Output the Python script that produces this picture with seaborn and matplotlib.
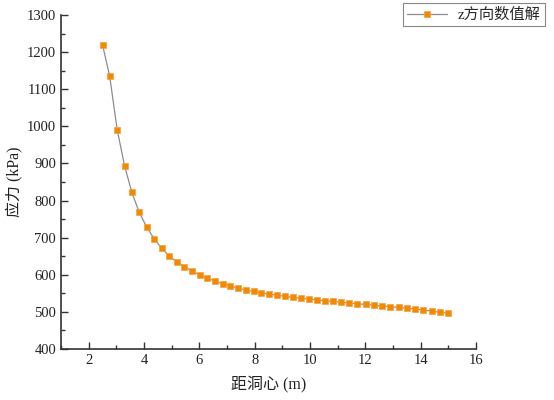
import matplotlib
matplotlib.use("Agg")
import matplotlib.pyplot as plt
import seaborn as sns
import pandas as pd
from matplotlib.ticker import MultipleLocator
from matplotlib.lines import Line2D

distance_m = [2.50, 2.76, 3.03, 3.30, 3.56, 3.83, 4.10, 4.37, 4.64, 4.91,
              5.18, 5.46, 5.73, 6.01, 6.28, 6.56, 6.84, 7.12, 7.40, 7.68,
              7.96, 8.24, 8.52, 8.81, 9.09, 9.38, 9.67, 9.96, 10.25, 10.54,
              10.83, 11.12, 11.42, 11.71, 12.01, 12.30, 12.60, 12.90, 13.20, 13.50,
              13.80, 14.10, 14.40, 14.70, 15.00]
stress_kpa = [1220, 1135, 991, 893, 822, 768, 728, 697, 671, 651,
              635, 622, 610, 600, 591, 583, 576, 570, 564, 559,
              555, 551, 548, 545, 542, 539, 537, 535, 532, 530,
              528, 526, 524, 522, 520, 518, 516, 514, 512, 510,
              508, 505, 502, 499, 496]
series_name = "z方向数值解"
x_label = "距洞心 (m)"
y_label = "应力 (kPa)"

sns.set_style("ticks")
fam = ["Liberation Serif", "Noto Sans CJK SC"]
plt.rcParams["font.family"] = fam

df = pd.DataFrame({"x": distance_m, "y": stress_kpa, "s": series_name})

fig = plt.figure(figsize=(5.54, 4.0), dpi=100)
ax = fig.add_axes([61 / 554, 1 - 349 / 400, (476 - 61) / 554, (349 - 15) / 400])

mk = dict(marker="s", markersize=4.8, markerfacecolor="#F28A00",
          markeredgecolor="#F5A040", markeredgewidth=0.5)
sns.lineplot(data=df, x="x", y="y", hue="s", palette=["#8c8c8c"], ax=ax,
             linewidth=0.9, legend=False, **mk)

ax.set_xlim(1, 16)
ax.set_ylim(400, 1300)
ax.xaxis.set_major_locator(MultipleLocator(2))
ax.xaxis.set_minor_locator(MultipleLocator(1))
ax.yaxis.set_major_locator(MultipleLocator(100))
ax.yaxis.set_minor_locator(MultipleLocator(50))
ax.tick_params(which="both", direction="in", colors="#333333", labelcolor="#222222",
               width=1.0, labelsize=10.5)
ax.tick_params(which="major", length=5)
ax.tick_params(which="minor", length=3)
for s in ["top", "right"]:
    ax.spines[s].set_visible(False)
for s in ["left", "bottom"]:
    ax.spines[s].set_color("#333333")
    ax.spines[s].set_linewidth(1.2)

ax.set_xlabel(x_label, fontsize=11.5, family=fam, color="#222222", labelpad=7)
ax.set_ylabel(y_label, fontsize=11.5, family=fam, color="#222222", labelpad=3)

h = Line2D([0], [0], color="#8c8c8c", lw=0.9, **mk)
leg = fig.legend([h], [series_name], loc="upper right",
                 bbox_to_anchor=(545 / 554, 1 - 3 / 400), borderaxespad=0,
                 frameon=True, fancybox=False, framealpha=1, edgecolor="#888888",
                 prop={"family": fam, "size": 11}, borderpad=0.3,
                 handlelength=2.6, handletextpad=0.7)
leg.get_frame().set_linewidth(0.8)

fig.savefig("out.png", dpi=100)
